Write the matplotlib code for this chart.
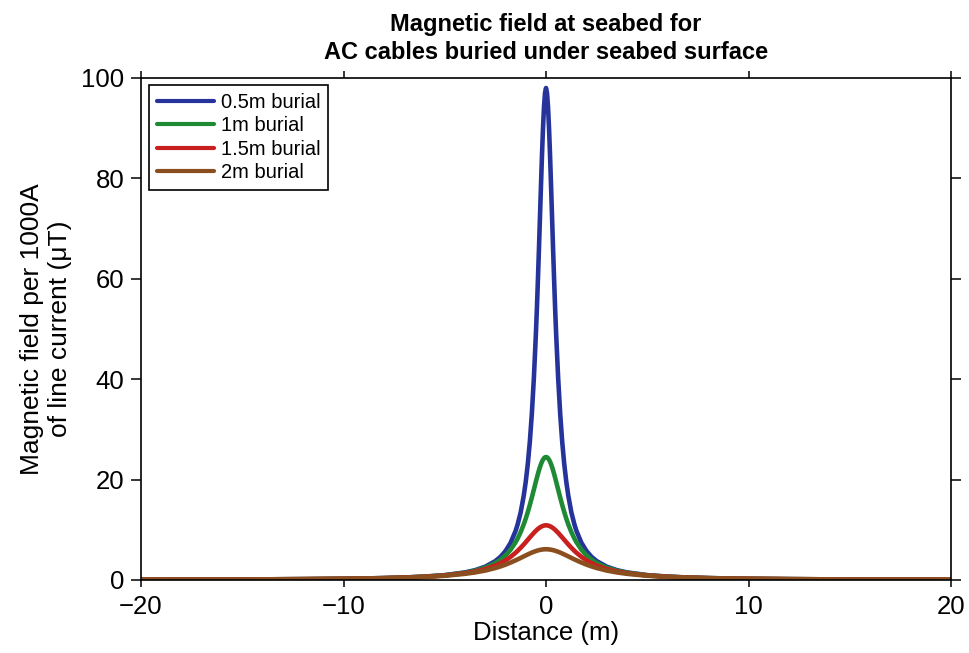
import numpy as np
import matplotlib
matplotlib.use("Agg")
import matplotlib.pyplot as plt

plt.rcParams['font.family'] = ['Liberation Sans', 'DejaVu Sans']

# distance from cable (m), one side; curves are symmetric about 0
dist_half = [0, 0.05, 0.1, 0.15, 0.2, 0.25, 0.3, 0.35, 0.4, 0.45,
             0.5, 0.6, 0.7, 0.8, 0.9, 1.0, 1.1, 1.25, 1.4, 1.5,
             1.75, 2, 2.25, 2.5, 3, 3.5, 4, 5, 6, 7,
             8, 10, 12, 15, 20]

# field (uT per 1000A), same points as dist_half
b_05 = [98.0, 97.0, 94.2, 89.9, 84.5, 78.4, 72.1, 65.8, 59.8, 54.1,
        49.0, 40.2, 33.1, 27.5, 23.1, 19.6, 16.8, 13.5, 11.1, 9.8,
        7.40, 5.76, 4.61, 3.77, 2.65, 1.96, 1.51, 0.97, 0.68, 0.50,
        0.38, 0.24, 0.17, 0.11, 0.06]
b_10 = [24.5, 24.44, 24.26, 23.96, 23.56, 23.06, 22.48, 21.83, 21.12, 20.37,
        19.6, 18.01, 16.44, 14.94, 13.54, 12.25, 11.09, 9.56, 8.28, 7.54,
        6.03, 4.9, 4.04, 3.38, 2.45, 1.85, 1.44, 0.94, 0.66, 0.49,
        0.38, 0.24, 0.17, 0.11, 0.06]
b_15 = [10.89, 10.88, 10.84, 10.78, 10.70, 10.59, 10.47, 10.33, 10.17, 9.99,
        9.80, 9.39, 8.94, 8.48, 8.01, 7.54, 7.08, 6.43, 5.82, 5.44,
        4.61, 3.92, 3.35, 2.88, 2.18, 1.69, 1.34, 0.90, 0.64, 0.48,
        0.37, 0.24, 0.17, 0.11, 0.06]
b_20 = [6.12, 6.12, 6.11, 6.09, 6.06, 6.03, 5.99, 5.94, 5.89, 5.83,
        5.76, 5.62, 5.46, 5.28, 5.09, 4.9, 4.70, 4.40, 4.11, 3.92,
        3.47, 3.06, 2.70, 2.39, 1.88, 1.51, 1.23, 0.84, 0.61, 0.46,
        0.36, 0.24, 0.17, 0.11, 0.06]

labels = ['0.5m burial', '1m burial', '1.5m burial', '2m burial']
colors = ['#25339b', '#1f8a34', '#c8201f', '#8b4f1f']


def mirror(vals):
    vals = np.asarray(vals, dtype=float)
    return np.concatenate([vals[:0:-1], vals])


d = np.asarray(dist_half, dtype=float)
x = np.concatenate([-d[:0:-1], d])

fig = plt.figure(figsize=(9.7, 6.53), dpi=100)
ax = fig.add_axes([0.1454, 0.1118, 0.8350, 0.7688])

for vals, lab, col in zip([b_05, b_10, b_15, b_20], labels, colors):
    ax.plot(x, mirror(vals), color=col, lw=3.3, label=lab,
            solid_joinstyle='round', solid_capstyle='round')

ax.set_xlim(-20, 20)
ax.set_ylim(0, 100)
ax.set_xticks([-20, -10, 0, 10, 20])
ax.set_xticklabels(['\u221220', '\u221210', '0', '10', '20'])
ax.set_yticks([0, 20, 40, 60, 80, 100])

ax.tick_params(axis='x', direction='out', length=5, width=1.1,
               top=True, labelsize=18.5, pad=6)
ax.tick_params(axis='y', direction='out', length=7, width=1.1,
               right=True, labelsize=18.5, pad=5)
for s in ax.spines.values():
    s.set_linewidth(1.2)

ax.set_xlabel('Distance (m)', fontsize=18.5, labelpad=1)
ax.set_ylabel('Magnetic field per 1000A\nof line current (\u03bcT)', fontsize=19,
              labelpad=7, linespacing=1.2)
ax.set_title('Magnetic field at seabed for\nAC cables buried under seabed surface',
             fontsize=17, fontweight='bold', pad=14, linespacing=1.25)

leg = ax.legend(loc='upper left', bbox_to_anchor=(0.0099, 0.986), borderaxespad=0,
                fontsize=14.5, frameon=True, fancybox=False, edgecolor='black',
                framealpha=1, handlelength=2.8, handletextpad=0.35,
                labelspacing=0.22, borderpad=0.4)
leg.get_frame().set_linewidth(1.2)
for line in leg.get_lines():
    line.set_linewidth(3.0)

fig.savefig('out.png', dpi=100)
